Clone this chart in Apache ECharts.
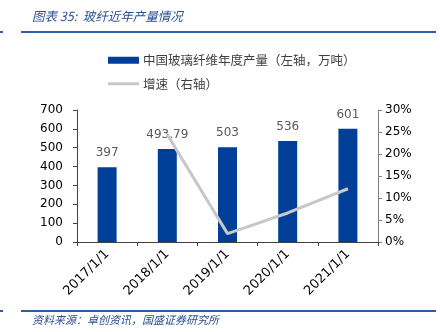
<!DOCTYPE html>
<html>
<head>
<meta charset="utf-8">
<script src="https://cdn.jsdelivr.net/npm/echarts@6/dist/echarts.min.js"></script>
<style>
html,body{margin:0;padding:0;background:#fff;}
#chart{width:440px;height:332px;}
</style>
</head>
<body>
<div id="chart"></div>
<script>
// Annual glass fibre output in China (10k tonnes) and year-on-year growth (%)
const categories = ['2017/1/1', '2018/1/1', '2019/1/1', '2020/1/1', '2021/1/1'];
const output = [397, 493.79, 503, 536, 601];
const growth = [null, 24.4, 1.9, 6.6, 12.1];
const leftTicks = { min: 0, max: 700, interval: 100 };
const rightTicks = { min: 0, max: 30, interval: 5 };

const chart = echarts.init(document.getElementById('chart'), null, { renderer: 'canvas' });
const numFont = 'DejaVu Sans, Verdana, sans-serif';
const cjkFont = 'Noto Sans CJK SC, sans-serif';
const blue = '#003f97';
const headBlue = '#2d5ea8';
const grey = '#c8c8c8';

chart.setOption({
  animation: false,
  backgroundColor: '#fff',
  graphic: [
    { type: 'text', left: 32, top: 10,
      style: { text: '图表 35:  玻纤近年产量情况', fill: '#2b4f92', font: 'italic 12.5px ' + cjkFont } },
    { type: 'rect', shape: { x: 0, y: 31, width: 3, height: 2 }, style: { fill: headBlue } },
    { type: 'rect', shape: { x: 21, y: 31, width: 415, height: 2 }, style: { fill: headBlue } },
    { type: 'rect', shape: { x: 0, y: 310, width: 3, height: 2 }, style: { fill: headBlue } },
    { type: 'rect', shape: { x: 21, y: 310, width: 415, height: 2 }, style: { fill: headBlue } },
    { type: 'text', left: 32, top: 314,
      style: { text: '资料来源：卓创资讯，国盛证券研究所', fill: '#2b4f92', font: 'italic 11px ' + cjkFont } }
  ],
  legend: {
    orient: 'vertical',
    left: 103,
    top: 49,
    itemGap: 11,
    itemWidth: 31,
    itemHeight: 7,
    symbolKeepAspect: true,
    textStyle: { fontFamily: cjkFont, fontSize: 12.5, color: '#404040', padding: [0, 0, 0, -1] },
    data: [
      { name: '中国玻璃纤维年度产量（左轴，万吨）', icon: 'rect' },
      { name: '增速（右轴）', icon: 'path://M0,0H31V3H0Z', itemStyle: { color: grey } }
    ]
  },
  grid: { left: 77, right: 62, top: 110, bottom: 90 },
  xAxis: {
    type: 'category',
    data: categories,
    boundaryGap: true,
    axisLine: { lineStyle: { color: '#404040', width: 1 } },
    axisTick: { show: true, length: 4, lineStyle: { color: '#404040' } },
    axisLabel: { rotate: 45, color: '#000', fontFamily: numFont, fontSize: 13, margin: 10 }
  },
  yAxis: [
    {
      type: 'value', min: leftTicks.min, max: leftTicks.max, interval: leftTicks.interval,
      position: 'left',
      axisLine: { show: true, lineStyle: { color: '#404040' } },
      axisTick: { show: true, length: 4, lineStyle: { color: '#404040' } },
      splitLine: { show: false },
      axisLabel: { color: '#000', fontFamily: numFont, fontSize: 12, margin: 14 }
    },
    {
      type: 'value', min: rightTicks.min, max: rightTicks.max, interval: rightTicks.interval,
      position: 'right',
      axisLine: { show: true, lineStyle: { color: '#808080' } },
      axisTick: { show: true, length: 4, lineStyle: { color: '#808080' } },
      splitLine: { show: false },
      axisLabel: { color: '#000', fontFamily: numFont, fontSize: 12, margin: 7, formatter: '{value}%' }
    }
  ],
  series: [
    {
      name: '中国玻璃纤维年度产量（左轴，万吨）',
      type: 'bar',
      yAxisIndex: 0,
      data: output,
      barWidth: 19,
      itemStyle: { color: blue },
      label: { show: true, position: 'top', distance: 8, color: '#595959', fontFamily: numFont, fontSize: 12 }
    },
    {
      name: '增速（右轴）',
      type: 'line',
      yAxisIndex: 1,
      data: growth,
      showSymbol: false,
      symbol: 'none',
      lineStyle: { color: grey, width: 3 },
      itemStyle: { color: grey },
      z: 3
    }
  ]
});
</script>
</body>
</html>
